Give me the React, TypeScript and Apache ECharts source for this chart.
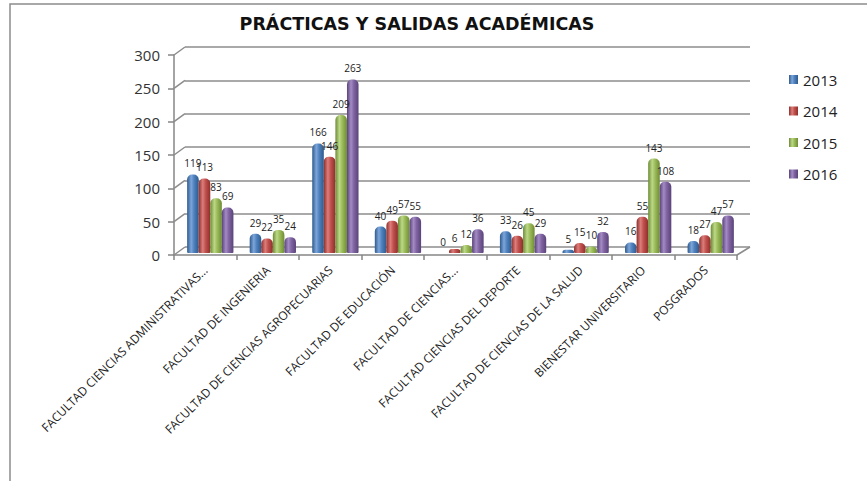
import React, { useEffect, useRef } from "react";
import * as echarts from "echarts";

const categories = [
  "FACULTAD CIENCIAS ADMINISTRATIVAS...",
  "FACULTAD DE INGENIERIA",
  "FACULTAD DE CIENCIAS AGROPECUARIAS",
  "FACULTAD DE EDUCACIÓN",
  "FACULTAD DE CIENCIAS...",
  "FACULTAD CIENCIAS DEL DEPORTE",
  "FACULTAD DE CIENCIAS DE LA SALUD",
  "BIENESTAR UNIVERSITARIO",
  "POSGRADOS",
];
const years = ["2013", "2014", "2015", "2016"];
const values2013 = [119, 29, 166, 40, 0, 33, 5, 16, 18];
const values2014 = [113, 22, 146, 49, 6, 26, 15, 55, 27];
const values2015 = [83, 35, 209, 57, 12, 45, 10, 143, 47];
const values2016 = [69, 24, 263, 55, 36, 29, 32, 108, 57];
const yTicks = [0, 50, 100, 150, 200, 250, 300];

const seriesValues = [values2013, values2014, values2015, values2016];
const baseColors = ["#4F81BD", "#C0504D", "#9BBB59", "#8064A2"];
const darkColors = ["#2E5A8E", "#8E2F2C", "#6E8C35", "#5A4379"];
const lightColors = ["#7DA6DA", "#DC7E7B", "#BCD888", "#A38BC4"];

const GRID_LEFT = 174;
const GRID_RIGHT = 130;
const GRID_TOP = 55;
const GRID_BOTTOM = 226;
const DX = 11;
const DY = -8;
const BAR_SHIFT = 5;
const FONT = "Open Sans";

export default function App() {
  const ref = useRef<HTMLDivElement>(null);
  useEffect(() => {
    if (!ref.current) return;
    const chart = echarts.init(ref.current, undefined, { renderer: "svg" });
    const series = years.map((y, i) => ({
      name: y,
      type: "bar" as const,
      xAxisIndex: 2,
      yAxisIndex: 2,
      data: seriesValues[i],
      barGap: "0%",
      barCategoryGap: "26%",
      itemStyle: {
        color: new echarts.graphic.LinearGradient(0, 0, 1, 0, [
          { offset: 0, color: darkColors[i] },
          { offset: 0.35, color: lightColors[i] },
          { offset: 0.6, color: baseColors[i] },
          { offset: 1, color: darkColors[i] },
        ]),
        borderRadius: [5, 5, 1, 1],
      },
      label: {
        show: true,
        position: "top" as const,
        distance: 6,
        fontSize: 10,
        color: "#222",
        fontFamily: FONT,
      },
    }));
    const option: any = {
      animation: false,
      backgroundColor: "#ffffff",
      title: {
        text: "PRÁCTICAS Y SALIDAS ACADÉMICAS",
        left: 412,
        top: 10,
        textAlign: "center",
        textStyle: { fontFamily: "DejaVu Sans", fontWeight: "bold", fontSize: 17.5, color: "#111" },
      },
      color: baseColors,
      legend: {
        data: years,
        orient: "vertical",
        left: 784,
        top: 67,
        itemWidth: 9,
        itemHeight: 9,
        itemGap: 16.5,
        icon: "rect",
        textStyle: { fontSize: 15, color: "#222", fontFamily: FONT },
      },
      grid: [
        { left: GRID_LEFT, right: GRID_RIGHT, top: GRID_TOP, bottom: GRID_BOTTOM },
        { left: GRID_LEFT + DX, right: GRID_RIGHT - DX - 2, top: GRID_TOP + DY, bottom: GRID_BOTTOM - DY },
        { left: GRID_LEFT + BAR_SHIFT, right: GRID_RIGHT - BAR_SHIFT, top: GRID_TOP, bottom: GRID_BOTTOM + 2 },
      ],
      xAxis: [
        {
          type: "category",
          gridIndex: 0,
          data: categories,
          axisLine: { lineStyle: { color: "#868686", width: 1.5 } },
          axisTick: { show: true, length: 5, lineStyle: { color: "#868686", width: 1.5 } },
          axisLabel: {
            interval: 0,
            rotate: 45,
            fontSize: 12,
            color: "#222",
            fontFamily: FONT,
            margin: 13,
          },
        },
        { type: "category", gridIndex: 1, data: categories, show: false },
        { type: "category", gridIndex: 2, data: categories, show: false },
      ],
      yAxis: [
        {
          type: "value",
          gridIndex: 0,
          min: 0,
          max: 300,
          interval: 50,
          axisLine: { show: true, lineStyle: { color: "#868686", width: 1.5 } },
          axisTick: { show: true, length: 6, lineStyle: { color: "#868686", width: 1.5 } },
          axisLabel: {
            fontSize: 15,
            color: "#333",
            fontFamily: FONT,
            margin: 14,
          },
          splitLine: { show: false },
        },
        {
          type: "value",
          gridIndex: 1,
          min: 0,
          max: 300,
          interval: 50,
          axisLine: { show: false },
          axisTick: { show: false },
          axisLabel: { show: false },
          splitLine: { show: true, lineStyle: { color: "#8C8C8C", width: 1.5 } },
        },
        {
          type: "value",
          gridIndex: 2,
          min: 0,
          max: 300,
          interval: 50,
          show: false,
          splitLine: { show: false },
        },
      ],
      series,
    };
    chart.setOption(option);

    const lines: any[] = [];
    const rightX = 867 - GRID_RIGHT;
    yTicks.forEach((v) => {
      const py = chart.convertToPixel({ yAxisIndex: 0 }, v) as number;
      lines.push({
        type: "line",
        shape: { x1: GRID_LEFT, y1: py, x2: GRID_LEFT + DX, y2: py + DY },
        style: { stroke: "#8C8C8C", lineWidth: 1.5 },
        z: 1,
      });
    });
    const py0 = chart.convertToPixel({ yAxisIndex: 0 }, 0) as number;
    lines.push({
      type: "line",
      shape: { x1: rightX, y1: py0, x2: rightX + DX + 2, y2: py0 + DY },
      style: { stroke: "#8C8C8C", lineWidth: 1.5 },
      z: 1,
    });
    lines.push({
      type: "rect",
      shape: { x: 10, y: 4, width: 900, height: 520 },
      style: { fill: "none", stroke: "#8C8C8C", lineWidth: 1.5 },
      z: 0,
    });
    chart.setOption({ graphic: lines });

    return () => chart.dispose();
  }, []);
  return (
    <div
      ref={ref}
      style={{ position: "fixed", left: 0, top: 0, width: 867, height: 481 }}
    />
  );
}
